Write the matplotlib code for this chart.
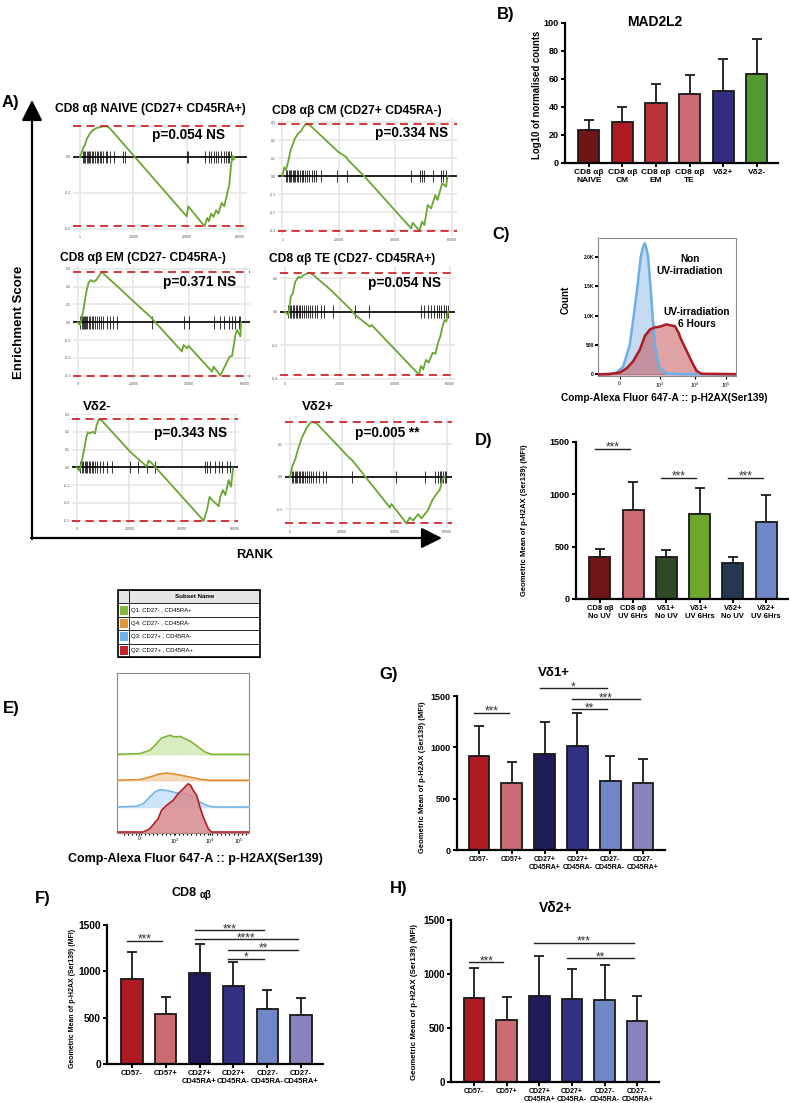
import numpy as np
import matplotlib
matplotlib.use('Agg')
import matplotlib.pyplot as plt
from matplotlib.patches import Rectangle

plt.rcParams['font.family'] = ['Liberation Sans', 'DejaVu Sans']
plt.rcParams['mathtext.fontset'] = 'custom'
plt.rcParams['mathtext.rm'] = 'Liberation Sans'
plt.rcParams['mathtext.bf'] = 'Liberation Sans:bold'

# ---------------- data ----------------
# A) GSEA running enrichment score (rank, ES) and hit ranks
naive_rank = [0, 980, 1850, 2700, 3700, 4700, 6150, 7400, 8600, 10100, 11100, 40000, 40600, 46700, 47700,
              48300, 49200, 50100, 51000, 51900, 53100, 54100, 55100, 56000, 56600, 57200, 57600, 57800]
naive_es = [0, 0.041, 0.068, 0.105, 0.13, 0.148, 0.161, 0.165, 0.17, 0.17, 0.161, -0.33, -0.274, -0.385, -0.339,
            -0.357, -0.315, -0.333, -0.296, -0.315, -0.255, -0.274, -0.209, -0.154, -0.052, 0.007, -0.015, 0.0]
naive_hits = [1000, 1500, 2000, 2500, 3000, 3400, 3900, 4400, 4900, 5500, 6200, 6900, 7400, 8000, 8600, 9600,
              10100, 11100, 12900, 16000, 17000, 40000, 40600, 47000, 48200, 49200, 50200, 51000, 51900, 52900,
              53900, 54700, 55400, 56000, 56600]

cm_rank = [0, 700, 1290, 2100, 2940, 3650, 4470, 5640, 6470, 7400, 8350, 9760, 10350, 19170, 19760, 22700, 23300,
           29200, 45630, 46200, 48570, 49500, 50330, 51500, 52700, 54200, 55000, 56600, 58000, 58560]
cm_es = [0, 0.048, 0.033, 0.08, 0.144, 0.172, 0.209, 0.237, 0.246, 0.27, 0.289, 0.283, 0.274, 0.144, 0.135, 0.104,
         0.089, -0.004, -0.291, -0.26, -0.304, -0.254, -0.272, -0.161, -0.18, -0.106, -0.133, -0.041, -0.059, 0.0]
cm_hits = [1290, 1760, 2230, 2700, 3180, 3650, 4120, 4590, 5060, 5650, 6230, 6940, 7410, 8000, 8590, 9520, 10350,
           11290, 12110, 13880, 19400, 23050, 45630, 48800, 49500, 50300, 53270, 56200, 56800, 57980]

em_rank = [0, 840, 2040, 3000, 3830, 4670, 5630, 6590, 7430, 8630, 9820, 17610, 18800, 26000, 26600, 37380, 37980,
           39170, 39770, 48160, 48760, 51150, 54500, 55350, 56550, 57150, 58340, 58580]
em_es = [0, -0.015, 0.069, 0.163, 0.219, 0.237, 0.228, 0.237, 0.256, 0.284, 0.265, 0.153, 0.135, 0.032, 0.022,
         -0.164, -0.127, -0.146, -0.133, -0.277, -0.249, -0.299, -0.193, -0.189, -0.071, -0.043, -0.08, 0.0]
em_hits = [840, 1440, 2040, 2400, 2760, 3110, 3470, 3950, 4430, 5030, 5630, 6350, 7070, 7790, 8270, 9220, 10420,
           11620, 12820, 14020, 26590, 37980, 39770, 48760, 51160, 52590, 54150, 55350, 56550, 57740, 58340]

te_rank = [0, 1235, 2100, 2840, 3700, 4940, 5560, 6790, 8650, 9880, 16670, 24080, 25560, 30880, 31490, 48780,
           49400, 50260, 51250, 52240, 53720, 54710, 55580, 56440, 57430, 58050, 58660, 59280]
te_es = [0, -0.02, 0.089, 0.109, 0.178, 0.208, 0.202, 0.218, 0.232, 0.224, 0.129, 0.01, -0.02, -0.089, -0.079,
         -0.376, -0.323, -0.343, -0.287, -0.303, -0.244, -0.251, -0.188, -0.149, -0.079, -0.05, -0.059, 0.0]
te_hits = [1235, 1850, 2350, 2840, 3330, 3830, 4320, 4940, 5560, 6180, 6790, 7530, 8270, 9020, 9880, 10740, 11730,
           12970, 14200, 17290, 25560, 30500, 49400, 50640, 51870, 53100, 54340, 55200, 55950, 56810, 57680,
           58420, 59280]

vd2neg_rank = [0, 1010, 1900, 2790, 3540, 4180, 5060, 6080, 6960, 7600, 8360, 9500, 20260, 20890, 26590, 27220,
               28480, 48110, 49370, 50390, 51270, 53810, 54440, 55450, 56340, 57600, 58490, 59250]
vd2neg_es = [0, -0.019, 0.032, 0.098, 0.163, 0.197, 0.191, 0.2, 0.191, 0.238, 0.27, 0.263, 0.088, 0.079, 0.004,
             0.038, 0.023, -0.3, -0.24, -0.165, -0.184, -0.218, -0.165, -0.128, -0.156, -0.071, -0.109, -0.006]
vd2neg_hits = [1270, 1900, 2530, 3040, 3540, 4050, 4560, 5060, 5700, 6330, 7090, 7850, 8860, 9870, 11390, 13290,
               20260, 23420, 26590, 29750, 48740, 49370, 50390, 52540, 53810, 55080, 56970, 58240]

vd2pos_rank = [0, 1020, 1910, 3190, 4460, 5350, 6620, 8280, 10190, 22930, 23570, 38220, 38860, 44590, 45860,
               47140, 49050, 50320, 52870, 54530, 55800, 57330, 58350, 59240]
vd2pos_es = [0, 0.072, 0.103, 0.175, 0.237, 0.268, 0.309, 0.34, 0.33, 0.113, 0.107, -0.19, -0.169, -0.289, -0.252,
             -0.272, -0.231, -0.258, -0.206, -0.144, -0.113, -0.082, -0.021, 0.0]
vd2pos_hits = [640, 1270, 1780, 2290, 2800, 3310, 3820, 4460, 5100, 5730, 6370, 7130, 7900, 8920, 9940, 11210,
               12490, 13760, 23570, 40770, 51600, 55420, 56690, 57330, 57970, 58600, 59240, 59900]

gsea_titles = ['CD8 αβ NAIVE (CD27+ CD45RA+)', 'CD8 αβ CM (CD27+ CD45RA-)', 'CD8 αβ EM (CD27- CD45RA-)',
               'CD8 αβ TE (CD27- CD45RA+)', 'Vδ2-', 'Vδ2+']
gsea_pvals = ['p=0.054 NS', 'p=0.334 NS', 'p=0.371 NS', 'p=0.054 NS', 'p=0.343 NS', 'p=0.005 **']

# B) MAD2L2
b_labels = ['CD8 αβ\nNAIVE', 'CD8 αβ\nCM', 'CD8 αβ\nEM', 'CD8 αβ\nTE', 'Vδ2+', 'Vδ2-']
b_means = [23.3, 29.3, 42.9, 49.5, 51.4, 63.3]
b_errs = [7.7, 10.7, 13.8, 13.5, 22.6, 25.5]

# C) histogram, x as fraction of the biexponential axis
c_blue_x = [0.0, 0.085, 0.133, 0.182, 0.230, 0.259, 0.286, 0.310, 0.328, 0.339, 0.350, 0.363, 0.380, 0.395,
            0.412, 0.441, 0.496, 0.60, 1.0]
c_blue = [3, 10, 30, 130, 500, 1000, 1500, 2000, 2180, 2230, 2150, 2000, 1500, 1000, 500, 130, 15, 5, 3]
c_red_x = [0.0, 0.085, 0.157, 0.206, 0.254, 0.303, 0.339, 0.375, 0.412, 0.448, 0.472, 0.496, 0.533, 0.557,
           0.581, 0.605, 0.642, 0.678, 0.714, 0.751, 1.0]
c_red = [0, 5, 30, 100, 220, 420, 650, 760, 800, 810, 830, 850, 830, 820, 720, 580, 400, 220, 60, 10, 3]

# D) UV
d_labels = ['CD8 αβ\nNo UV', 'CD8 αβ\nUV 6Hrs', 'Vδ1+\nNo UV', 'Vδ1+\nUV 6Hrs', 'Vδ2+\nNo UV', 'Vδ2+\nUV 6Hrs']
d_means = [405, 854, 402, 813, 342, 734]
d_errs = [73, 263, 66, 247, 57, 260]
d_sigs = [(0, 1, 1434, '***'), (2, 3, 1158, '***'), (4, 5, 1158, '***')]

# E) stacked histograms (height in px-like units over the fraction axis)
subset_names = ['Q1: CD27- , CD45RA+', 'Q4: CD27- , CD45RA-', 'Q3: CD27+ , CD45RA-', 'Q2: CD27+ , CD45RA+']
e_green_x = [0, 0.172, 0.249, 0.30, 0.337, 0.375, 0.40, 0.438, 0.476, 0.514, 0.565, 0.615, 0.666, 0.716, 1]
e_green = [0, 0.7, 4, 10.7, 16.3, 18, 19, 17.3, 18, 15.7, 12.3, 7.3, 2.3, 0, 0]
e_orange_x = [0, 0.172, 0.249, 0.311, 0.375, 0.413, 0.476, 0.552, 0.628, 0.704, 1]
e_orange = [0, 0.7, 3.3, 6, 7.3, 6.7, 5.3, 3.3, 1, 0, 0]
e_blue_x = [0, 0.147, 0.198, 0.248, 0.286, 0.324, 0.375, 0.425, 0.476, 0.527, 0.577, 0.628, 0.678, 0.729, 1]
e_blue = [0, 0.7, 3.3, 10, 15, 17.3, 16.7, 15, 13.3, 13.3, 10, 5, 1.7, 0, 0]
e_red_x = [0, 0.197, 0.248, 0.311, 0.337, 0.375, 0.425, 0.463, 0.489, 0.514, 0.539, 0.557, 0.577, 0.603,
           0.628, 0.653, 0.691, 0.716, 1]
e_red = [0, 0, 3.3, 13.3, 21.7, 26.7, 31.7, 38.3, 41.7, 45, 48.3, 46.7, 41.7, 36.7, 25, 15, 3.3, 0, 0]

# F, G, H) subsets
sub_labels = ['CD57-', 'CD57+', 'CD27+\nCD45RA+', 'CD27+\nCD45RA-', 'CD27-\nCD45RA-', 'CD27-\nCD45RA+']
f_means = [914, 536, 983, 842, 590, 529]
f_errs = [292, 191, 313, 263, 206, 187]
f_sigs = [(0, 1, 1332, '***'), (2, 4, 1444, '***'), (2, 5, 1346, '****'), (3, 5, 1231, '**'), (3, 4, 1134, '*')]
g_means = [916, 649, 932, 1013, 672, 649]
g_errs = [295, 211, 318, 318, 240, 234]
g_sigs = [(0, 1, 1338, '***'), (2, 4, 1575, '*'), (3, 5, 1468, '***'), (3, 4, 1370, '**')]
h_means = [779, 572, 795, 770, 758, 563]
h_errs = [279, 217, 374, 272, 325, 232]
h_sigs = [(0, 1, 1107, '***'), (2, 5, 1290, '***'), (3, 5, 1144, '**')]

W, H = 790, 1103
fig = plt.figure(figsize=(W / 100, H / 100), dpi=100)


def px_axes(l, t, r, b):
    return fig.add_axes([l / W, 1 - b / H, (r - l) / W, (b - t) / H])


def gsea(rank, es, hits, rect, zero_px, px_per_es, x0_px, px_per_60k, yticks, first):
    l, t, r, b = rect
    ax = px_axes(l, t, r, b)
    ax.set_facecolor('none')
    ppr = px_per_60k / 60000.0
    ax.set_xlim((l - x0_px) / ppr, (r - x0_px) / ppr)
    ylo, yhi = -(b - zero_px) / px_per_es, (zero_px - t) / px_per_es
    ax.set_ylim(ylo, yhi)
    for s in ax.spines.values():
        s.set_visible(False)
    ax.set_xticks([0, 20000, 40000, 60000])
    ax.set_xticklabels([first, '20000', '40000', '60000'])
    ax.set_yticks(yticks)
    ax.set_yticklabels(['%.1f' % v for v in yticks])
    ax.grid(True, color='#e6e6e6', lw=1.2)
    ax.set_axisbelow(True)
    ax.tick_params(length=0, labelsize=2.6, colors='#555555', pad=1.5)
    ax.axhline(0, color='k', lw=1.2, zorder=2)
    h = 0.055 * (yhi - ylo)
    ax.vlines(hits, -h, h, color='k', lw=0.55, zorder=3)
    ax.plot(rank, es, color='#6aa632', lw=1.3, zorder=4)
    ax.axhline(max(es), color='#d0282e', ls=(0, (4.5, 3)), lw=1.3, zorder=5, clip_on=False)
    ax.axhline(min(es), color='#d0282e', ls=(0, (4.5, 3)), lw=1.3, zorder=5, clip_on=False)
    return ax


def bar_panel(rect, labels, means, errs, colors, ymax, ystep, sigs, ytick_fs, xtick_fs, xlim):
    ax = px_axes(*rect)
    x = np.arange(len(means))
    ax.errorbar(x, means, yerr=[np.zeros(len(errs)), errs], fmt='none', ecolor='#1a1a1a',
                elinewidth=1.3, capsize=3.5, capthick=1.3, zorder=1)
    ax.bar(x, means, width=0.63, color=colors, edgecolor='#1a1a1a', linewidth=1.3, zorder=2)
    ax.set_xlim(xlim)
    ax.set_ylim(0, ymax)
    ax.set_yticks(np.arange(0, ymax + 1, ystep))
    ax.set_xticks(x)
    ax.set_xticklabels(labels, fontsize=xtick_fs, fontweight='bold', linespacing=1.1)
    plt.setp(ax.get_yticklabels(), fontweight='bold')
    ax.tick_params(axis='y', labelsize=ytick_fs, width=1.4, length=3, pad=1.5)
    ax.tick_params(axis='x', width=1.4, length=3, pad=1.5)
    ax.spines[['top', 'right']].set_visible(False)
    ax.spines[['left', 'bottom']].set_linewidth(1.6)
    for i, j, y, s in sigs:
        ax.plot([i - 0.15, j - 0.1], [y, y], color='#222222', lw=1.0, clip_on=False)
        ax.annotate(s, ((i + j) / 2 - 0.125, y), xytext=(0, -3.5), textcoords='offset points',
                    ha='center', va='bottom', fontsize=8.5, color='#333333', annotation_clip=False)
    return ax


# ---------------- A) GSEA ----------------
gsea(naive_rank, naive_es, naive_hits, (73, 121, 247, 233), 157, 180, 80, 160, [0, -0.2, -0.4], '1')
gsea(cm_rank, cm_es, cm_hits, (278, 119, 457, 236), 176, 180, 282.3, 169.4,
     [0.3, 0.2, 0.1, 0, -0.1, -0.2, -0.3], '1')
gsea(em_rank, em_es, em_hits, (73, 266, 250, 380), 322.3, 178, 77.7, 167.3,
     [0.3, 0.2, 0.1, 0, -0.1, -0.2, -0.3], '0')
gsea(te_rank, te_es, te_hits, (280, 266, 455, 380), 311.7, 168, 285, 165, [0.2, 0, -0.2, -0.4], '0')
gsea(vd2neg_rank, vd2neg_es, vd2neg_hits, (72, 414, 238, 525), 467.3, 178, 76.7, 158.3,
     [0.3, 0.2, 0.1, 0, -0.1, -0.2, -0.3], '0')
gsea(vd2pos_rank, vd2pos_es, vd2pos_hits, (285, 417, 452, 528), 476.7, 161.7, 290, 156.7, [0.2, 0, -0.2], '0')

# ---------------- B) MAD2L2 ----------------
axb = bar_panel((565, 23, 778, 163), b_labels, b_means, b_errs,
                ['#6e1517', '#ae1a21', '#b8323a', '#c96b71', '#332e7f', '#539b30'],
                100, 20, [], 6.5, 6, (-0.71, 5.63))

# ---------------- C) histogram ----------------
axc = px_axes(598, 238, 736, 376)
axc.fill_between(c_blue_x, c_blue, color='#c4dbf1', zorder=1)
axc.fill_between(c_red_x, c_red, color='#c0484f', alpha=0.5, zorder=2)
axc.plot(c_blue_x, c_blue, color='#6cb0ea', lw=1.8, zorder=3)
axc.plot(c_red_x, c_red, color='#b01c24', lw=1.8, zorder=4)
axc.set_xlim(0, 1)
axc.set_ylim(-28, 2318)
axc.set_yticks([0, 500, 1000, 1500, 2000])
axc.set_yticklabels(['0', '500', '1.0K', '1.5K', '2.0K'], fontsize=3.5, fontweight='bold')
axc.set_xticks([0.157, 0.448, 0.702, 0.925])
axc.set_xticklabels(['0', r'$10^3$', r'$10^4$', r'$10^5$'], fontsize=3.8)
axc.tick_params(axis='y', length=2, width=1.5, pad=1)
axc.tick_params(axis='x', length=2, width=0.8, pad=1.5)
for s in axc.spines.values():
    s.set_color('#8a8a8a')
    s.set_linewidth(0.8)

# ---------------- D) UV ----------------
bar_panel((576, 442, 788, 599), d_labels, d_means, d_errs,
          ['#701619', '#c96b71', '#2c4a23', '#6ea72b', '#24394f', '#6f87c6'],
          1500, 500, d_sigs, 6.5, 5.5, (-0.72, 5.66))

# ---------------- E) stacked histograms ----------------
axe = px_axes(117, 673, 249, 833)
e_sets = [(e_green_x, e_green, 78.7, '#7ab530', '#d3e8b6'),
          (e_orange_x, e_orange, 52.7, '#e08a2a', '#f2d3ae'),
          (e_blue_x, e_blue, 26, '#6bb3ea', '#c6e0f7'),
          (e_red_x, e_red, 1, '#b01c24', '#d88c8e')]
for k, (xs, ys, off, lc, fc) in enumerate(e_sets):
    yy = np.array(ys) + off
    axe.fill_between(xs, off, yy, color=fc, alpha=0.85, zorder=2 + k)
    axe.plot(xs, yy, color=lc, lw=1.1, zorder=2 + k)
axe.set_xlim(0, 1)
axe.set_ylim(0, 160)
axe.set_yticks([])
axe.set_xticks([0.167, 0.438, 0.704, 0.919])
axe.set_xticklabels(['0', r'$10^3$', r'$10^4$', r'$10^5$'], fontsize=3.6)
axe.set_xticks(np.linspace(0.05, 0.98, 30), minor=True)
axe.tick_params(axis='x', which='both', length=1.5, width=0.8, pad=1)
for s in axe.spines.values():
    s.set_color('#8a8a8a')
    s.set_linewidth(0.8)

# ---------------- F, G, H ----------------
sub_colors = ['#ae1a21', '#c96b71', '#1f1a58', '#343084', '#6f87c6', '#8883bb']
bar_panel((107, 925, 323, 1064), sub_labels, f_means, f_errs, sub_colors, 1500, 500, f_sigs, 7.4, 5.5,
          (-0.74, 5.65))
bar_panel((457, 696, 665, 850), sub_labels, g_means, g_errs, sub_colors, 1500, 500, g_sigs, 6.5, 5,
          (-0.67, 5.67))
bar_panel((451, 920, 659, 1082), sub_labels, h_means, h_errs, sub_colors, 1500, 500, h_sigs, 7, 5,
          (-0.71, 5.67))

# ---------------- overlay: arrows, labels, titles ----------------
fg = fig.add_axes([0, 0, 1, 1])
fg.set_xlim(0, W)
fg.set_ylim(H, 0)
fg.axis('off')


def txt(x, y, s, size, **kw):
    kw.setdefault('ha', 'center')
    kw.setdefault('va', 'center')
    kw.setdefault('fontweight', 'bold')
    fg.text(x, y, s, fontsize=size, **kw)


arrow = dict(arrowstyle='-|>,head_length=0.9,head_width=0.45', lw=1.6, color='k', mutation_scale=14,
             shrinkA=0, shrinkB=0)
fg.annotate('', xy=(32, 100), xytext=(32, 539), arrowprops=arrow)
fg.annotate('', xy=(442, 538), xytext=(31, 538), arrowprops=arrow)
txt(19, 322, 'Enrichment Score', 9.5, rotation=90)
txt(255, 555, 'RANK', 9.2)

title_xy = [(150, 109), (357, 111), (143, 258), (352, 259), (97, 407), (318, 407)]
p_xy = [(188, 135), (412, 133), (200, 282), (404, 283), (191, 433), (387, 433)]
for k in range(6):
    txt(title_xy[k][0], title_xy[k][1], gsea_titles[k], 8.7 if k < 4 else 9.5)
    txt(p_xy[k][0], p_xy[k][1], gsea_pvals[k], 9.8)

# panel letters
for s, x, y in [('A)', 2, 103), ('B)', 497, 14), ('C)', 492, 234), ('D)', 475, 440), ('E)', 3, 708),
                ('F)', 35, 898), ('G)', 379, 675), ('H)', 390, 888)]:
    txt(x, y, s, 12, ha='left')

# B labels
txt(655, 22, 'MAD2L2', 10)
txt(537, 95, 'Log10 of normalised counts', 6.9, rotation=90)

# C labels
txt(566, 300, 'Count', 7, rotation=90)
txt(664, 398, 'Comp-Alexa Fluor 647-A :: p-H2AX(Ser139)', 7.3)
txt(690, 265, 'Non\nUV-irradiation', 7.3, linespacing=1.15)
txt(697, 318, 'UV-irradiation\n6 Hours', 7.3, linespacing=1.15)

# D, F, G, H y labels and titles
ylab = 'Geometric Mean of p-H2AX (Ser139) (MFI)'
txt(524, 520, ylab, 5.5, rotation=90)
txt(72, 998, ylab, 5.0, rotation=90)
txt(422, 777, ylab, 5.5, rotation=90)
txt(415, 1002, ylab, 5.7, rotation=90)
txt(197, 893, 'CD8', 9, ha='right')
txt(200, 895, 'αβ', 7, ha='left')
txt(554, 673, 'Vδ1+', 9.5)
txt(556, 908, 'Vδ2+', 10)

# E label
txt(195, 853, 'Comp-Alexa Fluor 647-A :: p-H2AX(Ser139)', 9.0, va='top')

# subset legend table
tl, tr, tt, row_h = 118, 260, 590, 13.4
fg.add_patch(Rectangle((tl, tt), tr - tl, row_h, facecolor='#e6e6e6', edgecolor='none'))
for k in range(6):
    fg.plot([tl, tr], [tt + k * row_h] * 2, color='k', lw=0.6)
fg.plot([tl + 11, tl + 11], [tt, tt + 5 * row_h], color='k', lw=0.6)
fg.add_patch(Rectangle((tl, tt), tr - tl, 5 * row_h, facecolor='none', edgecolor='k', lw=1.2))
txt((tl + 11 + tr) / 2, tt + row_h / 2, 'Subset Name', 4.5)
sq_colors = ['#84b83a', '#e0963a', '#6cb4e8', '#c8202a']
for k, name in enumerate(subset_names):
    yc = tt + (k + 1.5) * row_h
    fg.add_patch(Rectangle((tl + 1.5, yc - 4.5), 8, 9, facecolor=sq_colors[k], edgecolor='none'))
    txt(tl + 13, yc, name, 4.3, ha='left', fontweight='normal')

fig.savefig('out.png', dpi=100)
